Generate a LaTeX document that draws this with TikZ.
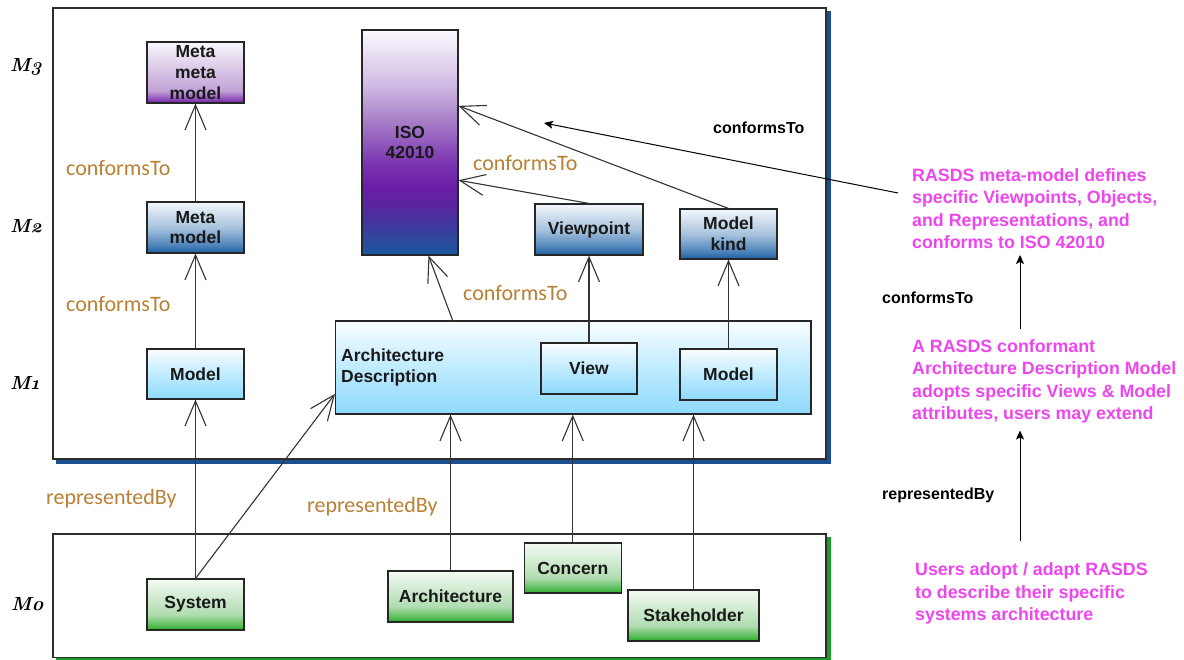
\documentclass[tikz,border=0pt]{standalone}
\usepackage{fontspec}
\setmainfont{Liberation Sans}
\newfontfamily\lblfont{Carlito}
\newfontfamily\lvlfont[Numbers=OldStyle]{Latin Modern Roman}
\usetikzlibrary{arrows.meta,calc}

\definecolor{lblorange}{RGB}{184,128,52}
\definecolor{pinktxt}{RGB}{238,70,238}
\definecolor{shadowblue}{RGB}{26,80,146}
\definecolor{shadowgreen}{RGB}{26,156,42}
\definecolor{framegray}{RGB}{45,45,45}

\definecolor{isoA}{RGB}{26,90,160}
\definecolor{isoB}{RGB}{53,64,158}
\definecolor{isoC}{RGB}{90,36,158}
\definecolor{isoD}{RGB}{106,30,168}
\definecolor{isoE}{RGB}{122,50,176}
\definecolor{isoF}{RGB}{168,128,200}
\definecolor{isoG}{RGB}{208,188,228}
\definecolor{isoH}{RGB}{251,249,253}

\definecolor{mmA}{RGB}{107,31,163}
\definecolor{mmB}{RGB}{140,72,184}
\definecolor{mmC}{RGB}{193,162,216}
\definecolor{mmD}{RGB}{220,204,232}
\definecolor{mmE}{RGB}{250,248,252}

\definecolor{blA}{RGB}{27,93,158}
\definecolor{blB}{RGB}{74,129,184}
\definecolor{blC}{RGB}{168,195,222}
\definecolor{blD}{RGB}{244,247,251}

\definecolor{cyA}{RGB}{141,217,253}
\definecolor{cyB}{RGB}{192,235,255}
\definecolor{cyC}{RGB}{249,253,255}

\definecolor{grA}{RGB}{26,163,26}
\definecolor{grB}{RGB}{72,184,72}
\definecolor{grC}{RGB}{176,220,176}
\definecolor{grD}{RGB}{244,250,244}

\pgfdeclareverticalshading{isoshade}{100bp}{color(0bp)=(isoA); color(25bp)=(isoA); color(30bp)=(isoB); color(36bp)=(isoC); color(40bp)=(isoD); color(45bp)=(isoE); color(55bp)=(isoF); color(63bp)=(isoG); color(75bp)=(isoH); color(100bp)=(isoH)}
\pgfdeclareverticalshading{mmmshade}{100bp}{color(0bp)=(mmA); color(25bp)=(mmA); color(28bp)=(mmB); color(35bp)=(mmC); color(55bp)=(mmD); color(75bp)=(mmE); color(100bp)=(mmE)}
\pgfdeclareverticalshading{blueshade}{100bp}{color(0bp)=(blA); color(25bp)=(blA); color(32bp)=(blB); color(50bp)=(blC); color(75bp)=(blD); color(100bp)=(blD)}
\pgfdeclareverticalshading{cyanshade}{100bp}{color(0bp)=(cyA); color(25bp)=(cyA); color(50bp)=(cyB); color(75bp)=(cyC); color(100bp)=(cyC)}
\pgfdeclareverticalshading{greenshade}{100bp}{color(0bp)=(grA); color(25bp)=(grA); color(28bp)=(grB); color(40bp)=(grC); color(75bp)=(grD); color(100bp)=(grD)}

\begin{document}
\begin{tikzpicture}[x=1pt,y=-1pt,
  box/.style={draw=black!85, line width=1.1pt, inner sep=0pt, align=center,
    text=black!90, font=\bfseries\fontsize{17.5}{20.7}\selectfont},
  isobox/.style={box, shading=isoshade},
  mmmbox/.style={box, shading=mmmshade},
  bluebox/.style={box, shading=blueshade},
  cyanbox/.style={box, shading=cyanshade},
  greenbox/.style={box, shading=greenshade},
  conn/.style={draw=black!80, line width=1.1pt, -{Straight Barb[length=25pt,width=21pt]}},
  thin/.style={draw=black, line width=1pt, -{Stealth[length=9pt,width=8pt,inset=2pt]}},
  orangelbl/.style={text=lblorange, font=\lblfont\fontsize{22}{26}\selectfont, inner sep=0pt, anchor=base west},
  blacklbl/.style={text=black, font=\bfseries\fontsize{16}{19}\selectfont, inner sep=0pt, anchor=base west},
  pinkblock/.style={text=pinktxt, font=\bfseries\fontsize{17.8}{22.3}\selectfont, align=left, inner sep=0pt, anchor=north west},
  lvl/.style={font=\lvlfont\bfseries\itshape\fontsize{19}{22}\selectfont, inner sep=0pt, anchor=base west}
]
\useasboundingbox (0,0) rectangle (1184,660);

% frames with shadows
\fill[shadowblue] (826,11) rectangle (830.5,463.5);
\fill[shadowblue] (56,459) rectangle (830.5,463.5);
\fill[shadowgreen] (826,537) rectangle (830.5,660);
\fill[shadowgreen] (56,657.5) rectangle (830.5,660);
\draw[framegray, line width=1.5pt, fill=white] (53,8) rectangle (826,459);
\draw[framegray, line width=1.5pt, fill=white] (53,534) rectangle (826,657.5);

% level labels
\node[lvl] (l3) at (10,72) {M3};
\node[lvl] (l2) at (10,233) {M2};
\node[lvl] (l1) at (10,390) {M1};
\node[lvl] (l0) at (11,610) {M0};

% boxes
\node[mmmbox, minimum width=97pt, minimum height=61pt] (mmm) at (195.5,72.5) {Meta\\meta\\model};
\node[bluebox, minimum width=97pt, minimum height=51pt] (mm) at (195.5,227.5) {Meta\\model};
\node[isobox, minimum width=96pt, minimum height=225pt] (iso) at (410,142.5) {ISO\\42010};
\node[bluebox, minimum width=108pt, minimum height=51pt] (vp) at (589,229.5) {Viewpoint};
\node[bluebox, minimum width=97pt, minimum height=50pt] (mk) at (728.5,234) {Model\\kind};
\node[cyanbox, minimum width=97pt, minimum height=50pt] (model) at (195.5,374) {Model};
\node[cyanbox, minimum width=475.5pt, minimum height=93pt,
  label={[anchor=west, xshift=6pt, inner sep=0pt, align=left, text=black!90,
    font=\bfseries\fontsize{17.5}{20.7}\selectfont]west:Architecture\\Description}] (ad) at (573.25,367.5) {};
\node[cyanbox, minimum width=96pt, minimum height=51pt] (view) at (589,368.5) {View};
\node[cyanbox, minimum width=97pt, minimum height=51pt] (model2) at (728.5,374.5) {Model};
\node[greenbox, minimum width=97pt, minimum height=51pt] (sys) at (195.5,604.5) {System};
\node[greenbox, minimum width=125pt, minimum height=51pt] (arch) at (450.5,596.5) {Architecture};
\node[greenbox, minimum width=97pt, minimum height=50pt] (concern) at (572.75,568) {Concern};
\node[greenbox, minimum width=131pt, minimum height=51pt] (stake) at (693.5,615.5) {Stakeholder};

% connectors
\draw[conn] (mm.north) -- (mmm.south);
\draw[conn] (model.north) -- (mm.south);
\draw[conn] (sys.north) -- (model.south);
\draw[conn] (sys.north) -- ($(ad.south west)!0.22!(ad.north west)$);
\draw[conn] ($(ad.north west)!0.247!(ad.north east)$) -- ($(iso.south west)!0.69!(iso.south east)$);
\draw[conn] (vp.north) -- ($(iso.north east)!0.667!(iso.south east)$);
\draw[conn] (mk.north) -- ($(iso.north east)!0.338!(iso.south east)$);
\draw[conn] (view.north) -- (vp.south);
\draw[conn] (model2.north) -- (mk.south);
\draw[conn] (arch.north) -- (arch.north |- ad.south);
\draw[conn] (concern.north) -- (concern.north |- ad.south);
\draw[conn] (stake.north) -- (stake.north |- ad.south);

% orange labels
\node[orangelbl] (c1) at (66,176) {conformsTo};
\node[orangelbl] (c2) at (66,312) {conformsTo};
\node[orangelbl] (c3) at (473,171) {conformsTo};
\node[orangelbl] (c4) at (463,301) {conformsTo};
\node[orangelbl] (r1) at (46,504) {representedBy};
\node[orangelbl] (r2) at (307,512) {representedBy};

% right side
\node[blacklbl] (k1) at (713,134) {conformsTo};
\node[blacklbl] (k2) at (882,304) {conformsTo};
\node[blacklbl] (k3) at (882,499) {representedBy};

\node[pinkblock] (b1) at (912,168.6) {RASDS meta-model defines\\specific Viewpoints, Objects,\\and Representations, and\\conforms to ISO 42010};
\node[pinkblock] (b2) at (912,339.6) {A RASDS conformant\\Architecture Description Model\\adopts specific Views \& Model\\attributes, users may extend};
\node[pinkblock] (b3) at (915,562.6) {Users adopt / adapt RASDS\\to describe their specific\\systems architecture};

\coordinate (ax) at (1020,0);
\coordinate (lstart) at (898,193);
\coordinate (ltip) at (544,123);
\draw[thin] (lstart) -- (ltip);
\draw[thin, shorten <=11pt, shorten >=6pt] (b2.north -| ax) -- (b1.south -| ax);
\draw[thin, shorten <=22pt, shorten >=7pt] (b3.north -| ax) -- (b2.south -| ax);
\end{tikzpicture}
\end{document}
